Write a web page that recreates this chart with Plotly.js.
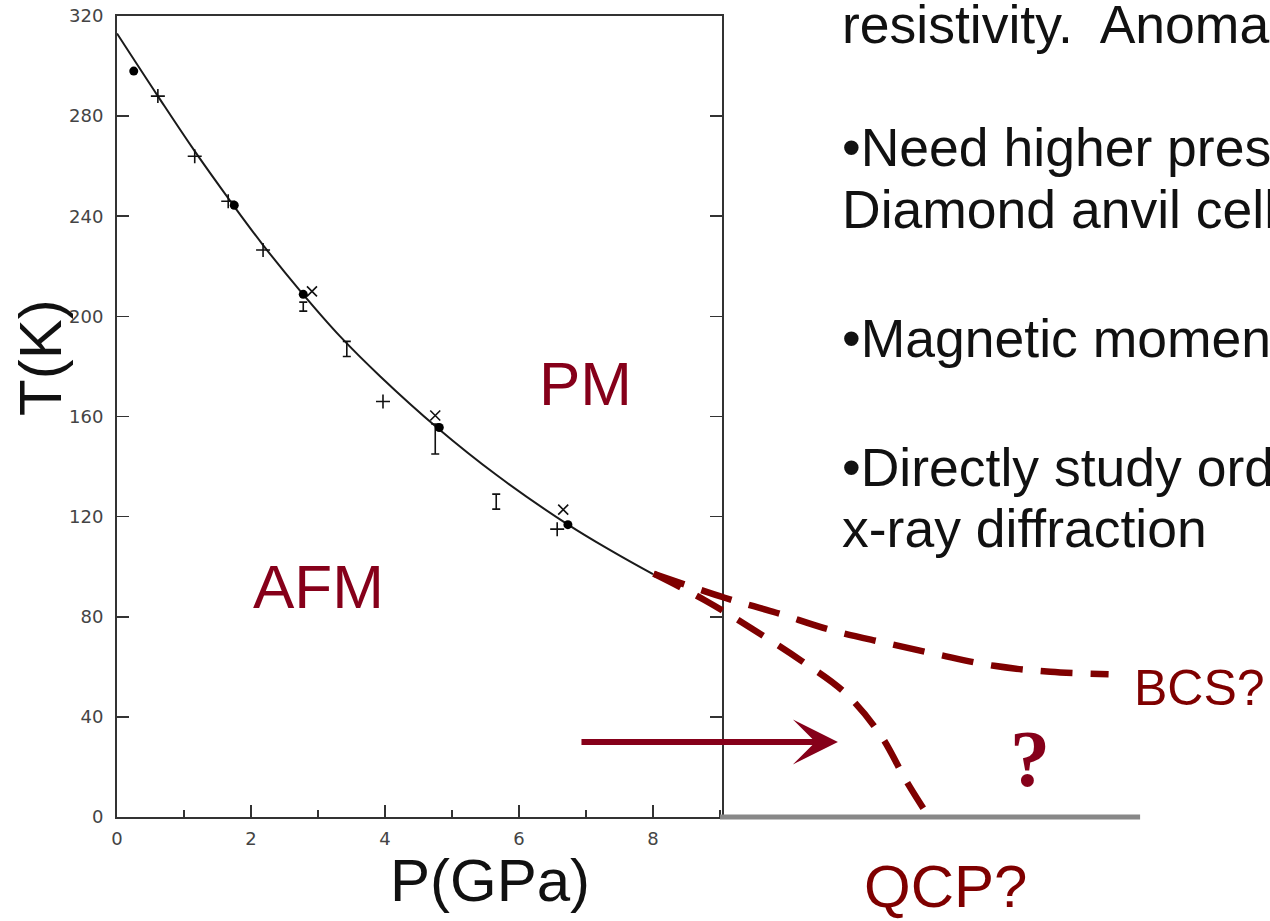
<!DOCTYPE html>
<html><head><meta charset="utf-8">
<script src="https://cdn.plot.ly/plotly-3.0.1.min.js"></script>
<style>html,body{margin:0;padding:0;background:#fff;overflow:hidden}#chart{width:1270px;height:921px}</style>
</head><body><div id="chart"></div>
<script>
// ---- data (P in GPa, T in K) ----
const fitP = [0, 0.61, 1.16, 1.72, 2.18, 2.74, 3.33, 3.93, 4.78, 5.67, 6.72, 7.40, 8.0];
const fitT = [313, 288, 266, 245, 228.5, 210, 192, 176, 155.5, 136.5, 117, 106, 97];
const dotP = [0.25, 1.75, 2.78, 4.81, 6.73];
const dotT = [298, 244.4, 208.8, 155.6, 116.8];
const plusP = [0.61, 1.16, 1.66, 2.18, 3.97, 6.57];
const plusT = [288, 264, 246, 226.5, 166, 115];
const crossP = [2.91, 4.75, 6.66];
const crossT = [210, 160.4, 122.8];
const barP = [2.78, 3.43, 4.75, 5.66];
const barT = [203.9, 187, 151, 126];
const barErr = [1.8, 3, 6, 3];
const bcsP = [8.01, 9.07, 9.84, 10.64, 11.46, 12.27, 13.09, 13.93, 14.80];
const bcsT = [97.2, 87.6, 81.6, 74.8, 69.6, 64.8, 60.4, 58, 57];
const qcpP = [8.01, 8.78, 9.49, 10.21, 10.87, 11.39, 11.78, 12.04];
const qcpT = [97.2, 86.5, 75, 62.5, 49.5, 33, 14.4, 3.2];
const arrowP = [6.91, 10.76];
const arrowT = 30;
const baseP = [9.0, 15.27];
const xTicks = [0, 2, 4, 6, 8];
const yTicks = [0, 40, 80, 120, 160, 200, 240, 280, 320];
const bulletLines = [
  'resistivity.\u00a0 Anoma',
  '\u2022Need higher pres',
  'Diamond anvil cell',
  '\u2022Magnetic moment',
  '\u2022Directly study ord',
  'x-ray diffraction'
];

const RED = '#86001a';
const DASH = '#7f0000';
const PXPERGPA = 67;
const W = 1270, H = 921, L = 117, T0 = 16, B = 104;
const paperW = W - L;            // 1153
const mainRight = 722;           // right edge of the frame, px
const px2paperX = p => (p - L) / paperW;
const px2paperY = p => (H - B - p) / (H - B - T0);

const traces = [
  {x: fitP, y: fitT, mode: 'lines', line: {color: '#1a1a1a', width: 2, shape: 'spline', smoothing: 1.1}, xaxis: 'x', yaxis: 'y', hoverinfo: 'skip'},
  {x: barP, y: barT, mode: 'markers', marker: {size: 4, opacity: 0},
   error_y: {type: 'data', array: barErr, visible: true, color: '#111', thickness: 1.6, width: 4},
   xaxis: 'x', yaxis: 'y'},
  {x: plusP, y: plusT, mode: 'markers', marker: {symbol: 'cross-thin', size: 10, color: '#111', line: {width: 1.6, color: '#111'}}, xaxis: 'x', yaxis: 'y'},
  {x: crossP, y: crossT, mode: 'markers', marker: {symbol: 'x-thin', size: 10, color: '#111', line: {width: 1.6, color: '#111'}}, xaxis: 'x', yaxis: 'y'},
  {x: dotP, y: dotT, mode: 'markers', marker: {symbol: 'circle', size: 9, color: '#000'}, xaxis: 'x', yaxis: 'y'},
  {x: bcsP, y: bcsT, mode: 'lines', line: {color: DASH, width: 6.5, dash: '32px,18px', shape: 'spline'}, xaxis: 'x2', yaxis: 'y'},
  {x: qcpP, y: qcpT, mode: 'lines', line: {color: DASH, width: 6.5, dash: '30px,18px', shape: 'spline'}, xaxis: 'x2', yaxis: 'y'}
];

const textAnn = (txt, px, py, size, color, opts) => Object.assign({
  text: txt, xref: 'paper', yref: 'paper', x: px2paperX(px), y: px2paperY(py),
  showarrow: false, xanchor: 'center', yanchor: 'middle',
  font: {family: 'Liberation Sans, Arial, sans-serif', size: size, color: color}
}, opts || {});

const bulletY = [24, 148, 209, 338, 467, 528];
const annotations = [
  textAnn('PM', 585, 383, 62, RED),
  textAnn('AFM', 318, 586, 62, RED),
  textAnn('BCS?', 1132, 688, 50, DASH, {xanchor: 'left'}),
  textAnn('QCP?', 945, 886, 60, DASH),
  textAnn('?', 1030, 759, 80, RED, {font: {family: 'Liberation Serif, Times New Roman, serif', size: 80, color: RED, weight: 'bold'}, text: '<b>?</b>'}),
  textAnn('P(GPa)', 490, 880, 60, '#111'),
  textAnn('T(K)', 40, 358, 60, '#111', {textangle: -90}),
  {xref: 'x2', yref: 'y', x: arrowP[1], y: arrowT, axref: 'x2', ayref: 'y', ax: arrowP[0], ay: arrowT,
   showarrow: true, arrowhead: 3, arrowsize: 1.25, arrowwidth: 6, arrowcolor: RED, text: ''}
];
bulletLines.forEach((s, i) => annotations.push(
  textAnn(s, 840, bulletY[i], 53.5, '#111', {xanchor: 'left'})));

const layout = {
  width: W, height: H,
  margin: {l: L, r: 0, t: T0, b: B, pad: 0},
  paper_bgcolor: '#fff', plot_bgcolor: 'rgba(0,0,0,0)',
  showlegend: false,
  xaxis: {
    domain: [0, px2paperX(mainRight)], range: [0, (mainRight - L) / PXPERGPA],
    anchor: 'y', showgrid: false, zeroline: false,
    showline: true, mirror: true, linecolor: '#333', linewidth: 2,
    tickmode: 'array', tickvals: xTicks, ticktext: xTicks.map(String),
    ticks: 'inside', ticklen: 12, tickwidth: 1.6, tickcolor: '#333',
    minor: {tickmode: 'linear', tick0: 1, dtick: 2, ticks: 'inside', ticklen: 7, tickwidth: 1.6, tickcolor: '#333'},
    tickfont: {family: 'DejaVu Sans, sans-serif', size: 18, color: '#444'},
    ticklabelstandoff: 4
  },
  xaxis2: {
    domain: [0, 1], range: [0, paperW / PXPERGPA], anchor: 'y', visible: false,
    showgrid: false, zeroline: false
  },
  yaxis: {
    domain: [0, 1], range: [0, 320], anchor: 'x',
    showgrid: false, zeroline: false,
    showline: true, mirror: 'ticks', linecolor: '#333', linewidth: 2,
    tickmode: 'array', tickvals: yTicks, ticktext: yTicks.map(String),
    ticks: 'inside', ticklen: 12, tickwidth: 1.6, tickcolor: '#333',
    tickfont: {family: 'DejaVu Sans, sans-serif', size: 18, color: '#444'},
    ticklabelstandoff: 8
  },
  shapes: [
    {type: 'line', xref: 'x2', yref: 'paper', x0: baseP[0], x1: baseP[1], y0: 0, y1: 0,
     line: {color: '#888', width: 5}}
  ],
  annotations: annotations
};

Plotly.newPlot('chart', traces, layout, {staticPlot: true, displayModeBar: false});
</script>
</body></html>
